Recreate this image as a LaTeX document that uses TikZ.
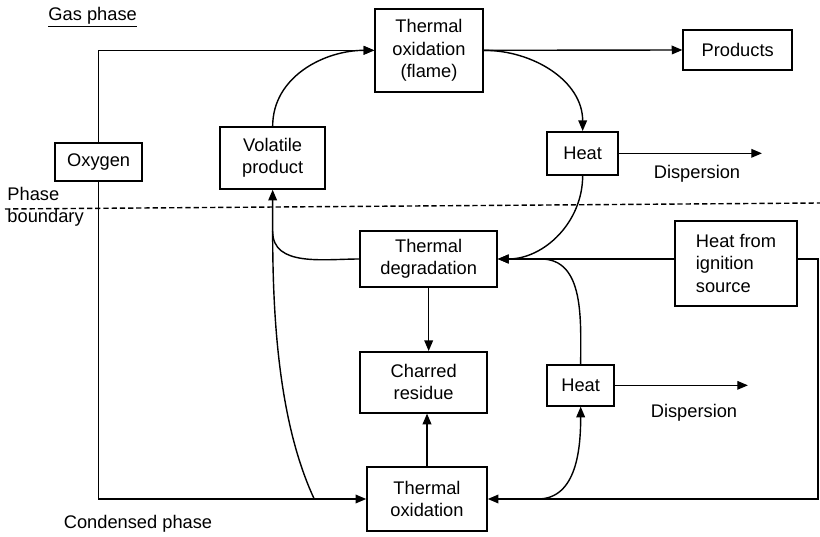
\documentclass[tikz,border=0pt]{standalone}
\usepackage{fontspec}
\setmainfont{Liberation Sans}
\usetikzlibrary{arrows.meta, positioning, calc}

\begin{document}
\begin{tikzpicture}[
    box/.style={draw, line width=1.3pt, align=center, inner sep=2pt},
    arr/.style={line width=1.2pt, -{Triangle[length=3.2mm, width=2.6mm]}},
    line/.style={line width=1.2pt},
    font=\fontsize{15.6pt}{19pt}\selectfont
]
    \useasboundingbox (0,0) rectangle (24.6,16.08);

    % === PHASE LABELS ===
    \node (gaslbl) at (2.78,15.57) {\underline{Gas phase}};
    \node[anchor=west, align=left] (bndlbl) at (0.1,9.87) {Phase\\boundary};
    \node (condlbl) at (4.14,0.36) {Condensed phase};
    \draw[line width=1.2pt, dash pattern=on 4.5pt off 2.5pt] (0.15,9.81) -- (24.6,9.99);

    % === BOXES ===
    \node[box, minimum width=3.24cm, minimum height=2.49cm] (flame) at (12.87,14.57) {Thermal\\oxidation\\(flame)};
    \node[box, minimum width=3.27cm, minimum height=1.2cm] (products) at (22.13,14.58) {Products};
    \node[box, minimum width=2.61cm, minimum height=1.14cm] (oxygen) at (2.96,11.22) {Oxygen};
    \node[box, minimum width=3.15cm, minimum height=1.86cm] (volatile) at (8.18,11.34) {Volatile\\product};
    \node[box, minimum width=2.13cm, minimum height=1.29cm] (heatgas) at (17.48,11.48) {Heat};
    \node[box, minimum width=4.11cm, minimum height=1.68cm] (degrad) at (12.86,8.31) {Thermal\\degradation};
    \node[box, minimum width=3.81cm, minimum height=1.83cm] (charred) at (12.71,4.61) {Charred\\residue};
    \node[box, minimum width=3.6cm, minimum height=1.92cm] (oxid) at (12.81,1.11) {Thermal\\oxidation};
    \node[box, minimum width=2.01cm, minimum height=1.23cm] (heatcond) at (17.42,4.52) {Heat};
    \node[box, align=left, minimum width=3.66cm, minimum height=2.55cm] (ignition) at (22.08,8.18) {Heat from\\ignition\\source};

    % === JOIN POINTS ===
    \coordinate (vjoin) at ($(volatile.south)+(0,-1.25)$);
    \coordinate (ojoin) at ($(oxid.west)+(-1.56,0)$);
    \coordinate (hjoin) at ($(degrad.east)+(1.29,0)$);
    \coordinate (cjoin) at ($(oxid.east)+(1.5,0)$);
    \coordinate (rail) at (24.54,5);
    \coordinate (disp1) at ($(heatgas.east)+(4.29,0)$);
    \coordinate (disp2) at ($(heatcond.east)+(3.99,0)$);

    % === GAS PHASE ===
    \draw[arr] (oxygen.north) |- (flame.west);
    \draw[arr] (volatile.north) to[out=90, in=180] (flame.west);
    \draw[arr] (flame.east) -- (products.west);
    \draw[arr] (flame.east) to[out=0, in=90] (heatgas.north);
    \draw[arr] (heatgas.east) -- (disp1);
    \node (dlbl1) at (20.91,10.86) {Dispersion};

    % === CONDENSED PHASE ===
    \draw[arr] (heatgas.south) to[out=-90, in=0] (degrad.east);
    \draw[line] (degrad.west) to[out=180, in=-90] (vjoin);
    \draw[arr] (ojoin) to[out=115, in=-90, looseness=0.8] (vjoin) -- (volatile.south);
    \draw[arr] (oxygen.south) |- (oxid.west);
    \draw[arr] (degrad.south) -- (degrad.south |- charred.north);
    \draw[arr] (oxid.north) -- (oxid.north |- charred.south);
    \draw[arr] (ignition.west |- degrad.east) -- (degrad.east);
    \draw[arr] (ignition.east |- degrad.east) -| (rail) |- (oxid.east);
    \draw[arr] (heatcond.north) to[out=90, in=0] (hjoin) -- (degrad.east);
    \draw[arr] (cjoin) to[out=0, in=-90] (heatcond.south);
    \draw[arr] (heatcond.east) -- (disp2);
    \node (dlbl2) at (20.82,3.69) {Dispersion};
\end{tikzpicture}
\end{document}
